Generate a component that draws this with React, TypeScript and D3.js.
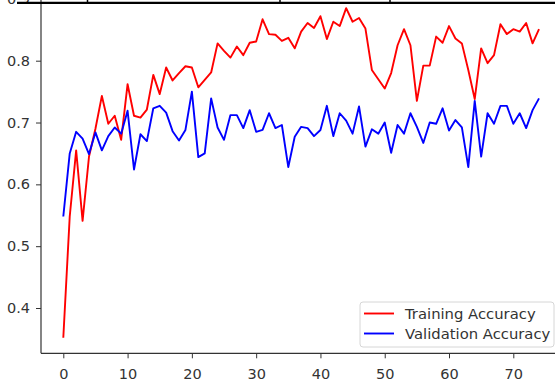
import React, { useEffect, useRef } from 'react';
import * as d3 from 'd3';

// accuracy per epoch
const trainAcc = [
  0.352, 0.548, 0.655, 0.541, 0.645, 0.69, 0.743, 0.698, 0.711, 0.672,
  0.762, 0.711, 0.708, 0.721, 0.777, 0.746, 0.789, 0.768, 0.78, 0.791,
  0.789, 0.757, 0.769, 0.781, 0.828, 0.816, 0.805, 0.823, 0.809, 0.829,
  0.831, 0.867, 0.843, 0.842, 0.832, 0.837, 0.82, 0.847, 0.861, 0.853,
  0.872, 0.835, 0.863, 0.856, 0.885, 0.863, 0.869, 0.852, 0.785, 0.77,
  0.755, 0.78, 0.825, 0.851, 0.825, 0.735, 0.792, 0.792, 0.839, 0.829,
  0.856, 0.836, 0.828, 0.785, 0.738, 0.82, 0.796, 0.809, 0.859, 0.843,
  0.851, 0.847, 0.861, 0.828, 0.851,
];

const valAcc = [
  0.548, 0.65, 0.685, 0.674, 0.649, 0.684, 0.655, 0.678, 0.692, 0.682,
  0.719, 0.624, 0.681, 0.67, 0.723, 0.727, 0.716, 0.686, 0.671, 0.688,
  0.75, 0.644, 0.65, 0.739, 0.692, 0.672, 0.712, 0.712, 0.691, 0.72,
  0.685, 0.688, 0.715, 0.691, 0.696, 0.628, 0.677, 0.693, 0.691, 0.678,
  0.688, 0.727, 0.678, 0.715, 0.703, 0.682, 0.726, 0.661, 0.689, 0.682,
  0.7, 0.651, 0.696, 0.682, 0.715, 0.693, 0.667, 0.7, 0.698, 0.723,
  0.687, 0.704, 0.692, 0.628, 0.735, 0.645, 0.715, 0.698, 0.727, 0.727,
  0.698, 0.715, 0.691, 0.72, 0.739,
];

const xTicks = [0, 10, 20, 30, 40, 50, 60, 70];
const yTicks = [0.4, 0.5, 0.6, 0.7, 0.8, 0.9];
const seriesNames = ['Training Accuracy', 'Validation Accuracy'];

const App = () => {
  const chartRef = useRef<SVGSVGElement>(null);

  useEffect(() => {
    const width = 555;
    const height = 385;
    const font = '"DejaVu Sans", sans-serif';

    const svg = d3.select(chartRef.current);
    svg.selectAll('*').remove();
    svg.attr('width', width).attr('height', height);

    svg.append('rect').attr('width', width).attr('height', height).attr('fill', '#fff');

    const x = d3.scaleLinear().domain([0, 70]).range([63.3, 513.3]);
    const y = d3.scaleLinear().domain([0.4, 0.8]).range([308, 60.7]);

    const left = 41;
    const bottom = 353.3;

    // x axis
    const xAxis = svg.append('g')
      .attr('transform', `translate(0,${bottom})`)
      .call(d3.axisBottom(x).tickValues(xTicks).tickSize(5).tickSizeOuter(0).tickPadding(10).tickFormat(d3.format('d')));
    xAxis.select('.domain').remove();

    // y axis
    const yAxis = svg.append('g')
      .attr('transform', `translate(${left},0)`)
      .call(d3.axisLeft(y).tickValues(yTicks).tickSize(5).tickSizeOuter(0).tickPadding(6).tickFormat(d3.format('.1f')));
    yAxis.select('.domain').remove();

    svg.selectAll('.tick line').attr('stroke', '#333').attr('stroke-width', 1);
    svg.selectAll('.tick text')
      .attr('fill', '#333')
      .style('font-family', font)
      .style('font-size', '14.5px');

    // spines
    svg.append('line').attr('x1', left).attr('x2', left).attr('y1', -10).attr('y2', bottom)
      .attr('stroke', '#333').attr('stroke-width', 1.2);
    svg.append('line').attr('x1', left).attr('x2', width + 10).attr('y1', bottom).attr('y2', bottom)
      .attr('stroke', '#333').attr('stroke-width', 1.2);

    const line = d3.line<number>()
      .x((d, i) => x(i))
      .y(d => y(d));

    svg.append('path').datum(trainAcc)
      .attr('d', line).attr('fill', 'none').attr('stroke', '#ff0000').attr('stroke-width', 1.9)
      .attr('stroke-linejoin', 'round');
    svg.append('path').datum(valAcc)
      .attr('d', line).attr('fill', 'none').attr('stroke', '#0000ff').attr('stroke-width', 1.9)
      .attr('stroke-linejoin', 'round');

    // legend
    const legend = svg.append('g').attr('transform', 'translate(360,302)');
    legend.append('rect')
      .attr('width', 194).attr('height', 45).attr('rx', 3)
      .attr('fill', '#fff').attr('fill-opacity', 0.8)
      .attr('stroke', '#d6d6d6').attr('stroke-width', 1);
    const colors = ['#ff0000', '#0000ff'];
    seriesNames.forEach((name, i) => {
      const ly = 11.5 + i * 20;
      legend.append('line').attr('x1', 4).attr('x2', 34).attr('y1', ly).attr('y2', ly)
        .attr('stroke', colors[i]).attr('stroke-width', 1.9);
      legend.append('text').attr('x', 45).attr('y', ly).attr('dy', '0.35em')
        .attr('fill', '#333').style('font-family', font).style('font-size', '14.8px')
        .text(name);
    });

    // strip of the page above the chart (cropped table border)
    svg.append('line').attr('x1', 17).attr('x2', width).attr('y1', 2.8).attr('y2', 2.8)
      .attr('stroke', '#000').attr('stroke-width', 2.2);
    [87.5, 280, 390].forEach(px => {
      svg.append('line').attr('x1', px).attr('x2', px).attr('y1', 0).attr('y2', 3)
        .attr('stroke', '#000').attr('stroke-width', 1.5);
    });
  }, []);

  return (
    <div>
      <svg ref={chartRef} style={{ position: 'absolute', left: 0, top: 0 }}></svg>
    </div>
  );
};

export default App;
